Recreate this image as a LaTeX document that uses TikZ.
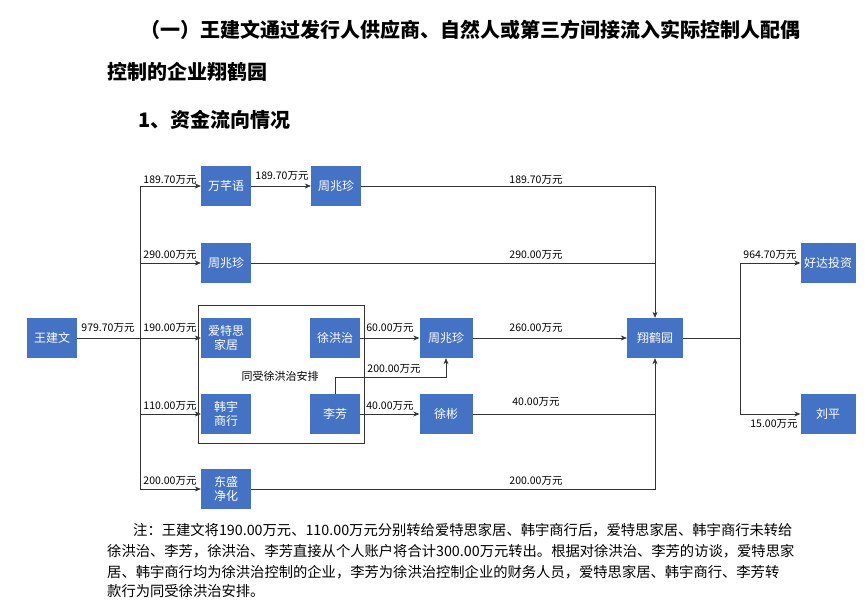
\documentclass[tikz,border=0pt]{standalone}
\usepackage{fontspec}
\setmainfont{Noto Sans CJK SC}
\usetikzlibrary{arrows.meta}
\begin{document}
\begin{tikzpicture}[x=1pt,y=-1pt,
 box/.style={draw=none,fill=bx,text=white,minimum width=50pt,minimum height=40pt,font=\fontsize{12}{14}\selectfont,align=center,inner sep=1pt},
 lab/.style={font=\fontsize{10.5}{12}\selectfont,inner sep=0pt},
 ln/.style={draw=black!80,line width=0.6pt},
 ar/.style={ln,-{Stealth[length=6pt,width=5pt]}},
 ttl/.style={anchor=west,font=\bfseries\fontsize{20}{22}\selectfont,inner sep=0pt},
 note/.style={anchor=west,font=\fontsize{14.3}{16}\selectfont,inner sep=0pt}]
\definecolor{bx}{HTML}{4472C4}
\useasboundingbox (0,0) rectangle (867,601);
\node[ttl] (t1) at (140,30) {（一）王建文通过发行人供应商、自然人或第三方间接流入实际控制人配偶};
\node[ttl] (t2) at (107,72) {控制的企业翔鹤园};
\node[ttl] (t3) at (138,120) {1、资金流向情况};
\draw[ln] (198,305) rectangle (364,443);
\node[lab,font=\fontsize{11}{13}\selectfont] (grp) at (280,376) {同受徐洪治安排};
\node[box] (w) at (52,338) {王建文};
\node[box] (wq) at (226,186) {万芊语};
\node[box] (z1) at (336,186) {周兆珍};
\node[box] (z2) at (226,263) {周兆珍};
\node[box] (ats) at (226,338) {爱特思\\家居};
\node[box] (xhz) at (335,338) {徐洪治};
\node[box,minimum width=53pt] (z3) at (446,338) {周兆珍};
\node[box] (hy) at (226,414) {韩宇\\商行};
\node[box] (lf) at (335,414) {李芳};
\node[box,minimum width=53pt] (xb) at (446,414) {徐彬};
\node[box] (ds) at (226,489) {东盛\\净化};
\node[box,minimum width=56pt] (xhy) at (655,338) {翔鹤园};
\node[box,minimum width=55pt] (hd) at (828,263) {好达投资};
\node[box,minimum width=55pt] (lp) at (828,414) {刘平};
\coordinate (tr) at (140,338);
\coordinate (sp) at (740,338);
\draw[ln] (w.east) -- (tr);
\draw[ln] (140,186) -- (140,489);
\draw[ar] (140,186) -- (wq.west);
\draw[ar] (140,263) -- (z2.west);
\draw[ar] (tr) -- (ats.west);
\draw[ar] (140,414) -- (hy.west);
\draw[ar] (140,489) -- (ds.west);
\draw[ar] (wq) -- (z1);
\draw[ar] (z1.east) -| (xhy.north);
\draw[ln] (z2.east) -- (655,263);
\draw[ar] (xhz) -- (z3);
\draw[ar] (z3) -- (xhy);
\draw[ar] (lf.north) |- (446,377) -- (z3.south);
\draw[ar] (lf) -- (xb);
\draw[ar] (xb.east) -| (xhy.south);
\draw[ln] (ds.east) -| (655,414);
\draw[ln] (xhy.east) -- (sp);
\draw[ar] (sp) |- (hd.west);
\draw[ar] (sp) |- (lp.west);
\node[lab] at (108,328) {979.70万元};
\node[lab] at (170,180) {189.70万元};
\node[lab] at (170,255) {290.00万元};
\node[lab] at (170,328) {190.00万元};
\node[lab] at (170,406) {110.00万元};
\node[lab] at (170,481) {200.00万元};
\node[lab] at (282,176) {189.70万元};
\node[lab] at (536,180) {189.70万元};
\node[lab] at (536,255) {290.00万元};
\node[lab] at (390,328) {60.00万元};
\node[lab] at (536,328) {260.00万元};
\node[lab] at (394,369) {200.00万元};
\node[lab] at (390,406) {40.00万元};
\node[lab] at (536,402) {40.00万元};
\node[lab] at (536,481) {200.00万元};
\node[lab] at (770,255) {964.70万元};
\node[lab] at (774,424) {15.00万元};
\node[note] (n1) at (133,530) {注：王建文将190.00万元、110.00万元分别转给爱特思家居、韩宇商行后，爱特思家居、韩宇商行未转给};
\node[note] (n2) at (107,551) {徐洪治、李芳，徐洪治、李芳直接从个人账户将合计300.00万元转出。根据对徐洪治、李芳的访谈，爱特思家};
\node[note] (n3) at (107,572) {居、韩宇商行均为徐洪治控制的企业，李芳为徐洪治控制企业的财务人员，爱特思家居、韩宇商行、李芳转};
\node[note] (n4) at (107,591) {款行为同受徐洪治安排。};
\end{tikzpicture}
\end{document}
